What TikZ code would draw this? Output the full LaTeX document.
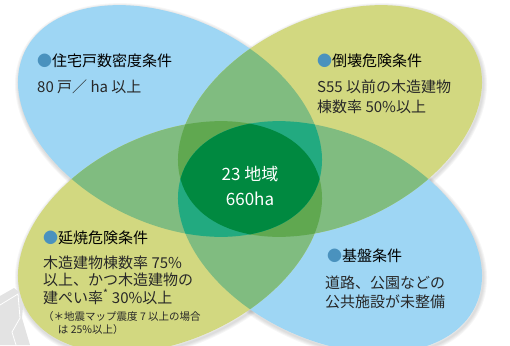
\documentclass[tikz,border=0pt]{standalone}
\usepackage{fontspec}
\newfontfamily\jp{Noto Sans CJK JP}
\usetikzlibrary{positioning}

\definecolor{petalblue}{RGB}{158,214,244}
\definecolor{petalyellow}{RGB}{210,216,128}
\definecolor{midgreen}{RGB}{128,188,128}
\definecolor{tealgreen}{RGB}{34,170,128}
\definecolor{olivegreen}{RGB}{96,168,80}
\definecolor{coregreen}{RGB}{0,137,64}
\definecolor{bulletblue}{RGB}{74,146,190}
\definecolor{inktext}{RGB}{40,40,40}

% the four petals
\newcommand\petalTL{[rotate around={-25.4:(170,121)}] (170,121) ellipse [x radius=161pt, y radius=103pt]}
\newcommand\petalTR{[rotate around={25.4:(330,121)}] (330,121) ellipse [x radius=161pt, y radius=103pt]}
\newcommand\petalBL{[rotate around={25.4:(170,237)}] (170,237) ellipse [x radius=161pt, y radius=103pt]}
\newcommand\petalBR{[rotate around={-25.4:(330,237)}] (330,237) ellipse [x radius=161pt, y radius=103pt]}

\tikzset{
	headtext/.style={font=\jp\fontsize{15}{18}\selectfont,text=black},
	bodytext/.style={font=\jp\fontsize{15}{#1}\selectfont},
	bodytext/.default=20
}

\begin{document}
\begin{tikzpicture}[x=1pt,y=-1pt]
	\useasboundingbox (0,0) rectangle (510,345);
	\clip (0,0) rectangle (510,345);

	% soft shadow
	\begin{scope}[shift={(1,2)}]
		\foreach \w in {2,4,6,8}{
			\draw[black,opacity=0.035,line width=\w pt] \petalTL;
			\draw[black,opacity=0.035,line width=\w pt] \petalTR;
			\draw[black,opacity=0.035,line width=\w pt] \petalBL;
			\draw[black,opacity=0.035,line width=\w pt] \petalBR;
		}
	\end{scope}
	\fill[gray!22] (0,296) -- (14,288) -- (24,296) -- (22,318) -- (30,345) -- (0,345) -- cycle;
	\draw[white,line width=0.8pt] (0,305) -- (18,294) -- (20,318) -- (12,332) -- (16,345);

	\fill[petalblue] \petalTL;
	\fill[petalblue] \petalBR;
	\fill[petalyellow] \petalTR;
	\fill[petalyellow] \petalBL;

	% two petals
	\begin{scope}\clip \petalTL; \fill[midgreen] \petalTR; \fill[midgreen] \petalBL; \end{scope}
	\begin{scope}\clip \petalBR; \fill[midgreen] \petalTR; \fill[midgreen] \petalBL; \end{scope}

	% three petals
	\begin{scope}\clip \petalTL; \clip \petalTR; \fill[olivegreen] \petalBL; \end{scope}
	\begin{scope}\clip \petalBR; \clip \petalTR; \fill[olivegreen] \petalBL; \end{scope}
	\begin{scope}\clip \petalTL; \clip \petalBR; \fill[tealgreen] \petalTR; \fill[tealgreen] \petalBL; \end{scope}

	% all four
	\begin{scope}\clip \petalTL; \clip \petalTR; \clip \petalBL; \fill[coregreen] \petalBR; \end{scope}

	\begin{scope}[every node/.style={anchor=west,inner sep=0pt,text=inktext,align=left}]
		\node[headtext] (housinghead) at (37,61) {\textcolor{bulletblue}{●}住宅戸数密度条件};
		\node[bodytext] (housingbody) at (37,87) {80 戸／ ha 以上};

		\node[headtext] (collapsehead) at (317,61) {\textcolor{bulletblue}{●}倒壊危険条件};
		\node[bodytext] (collapsebody) at (317,97) {S55 以前の木造建物\\棟数率 50\%以上};

		\node[headtext] (firehead) at (43,238) {\textcolor{bulletblue}{●}延焼危険条件};
		\node[bodytext=17.5] (firebody) at (43,280) {木造建物棟数率 75\%\\以上、かつ木造建物の\\建ぺい率\textsuperscript{*} 30\%以上};
		\node[font=\jp\fontsize{10.5}{13}\selectfont] (firenote) at (43,323.5) {（＊地震マップ震度 7 以上の場合\\\hspace*{1.4em}は 25\%以上）};

		\node[headtext] (basehead) at (327,256) {\textcolor{bulletblue}{●}基盤条件};
		\node[bodytext=19] (basebody) at (325,292.5) {道路、公園などの\\公共施設が未整備};
	\end{scope}

	\node[align=center,text=white,inner sep=0pt,font=\jp\fontsize{17}{25}\selectfont] (core) at (250,185.5) {23 地域\\660ha};
\end{tikzpicture}
\end{document}
